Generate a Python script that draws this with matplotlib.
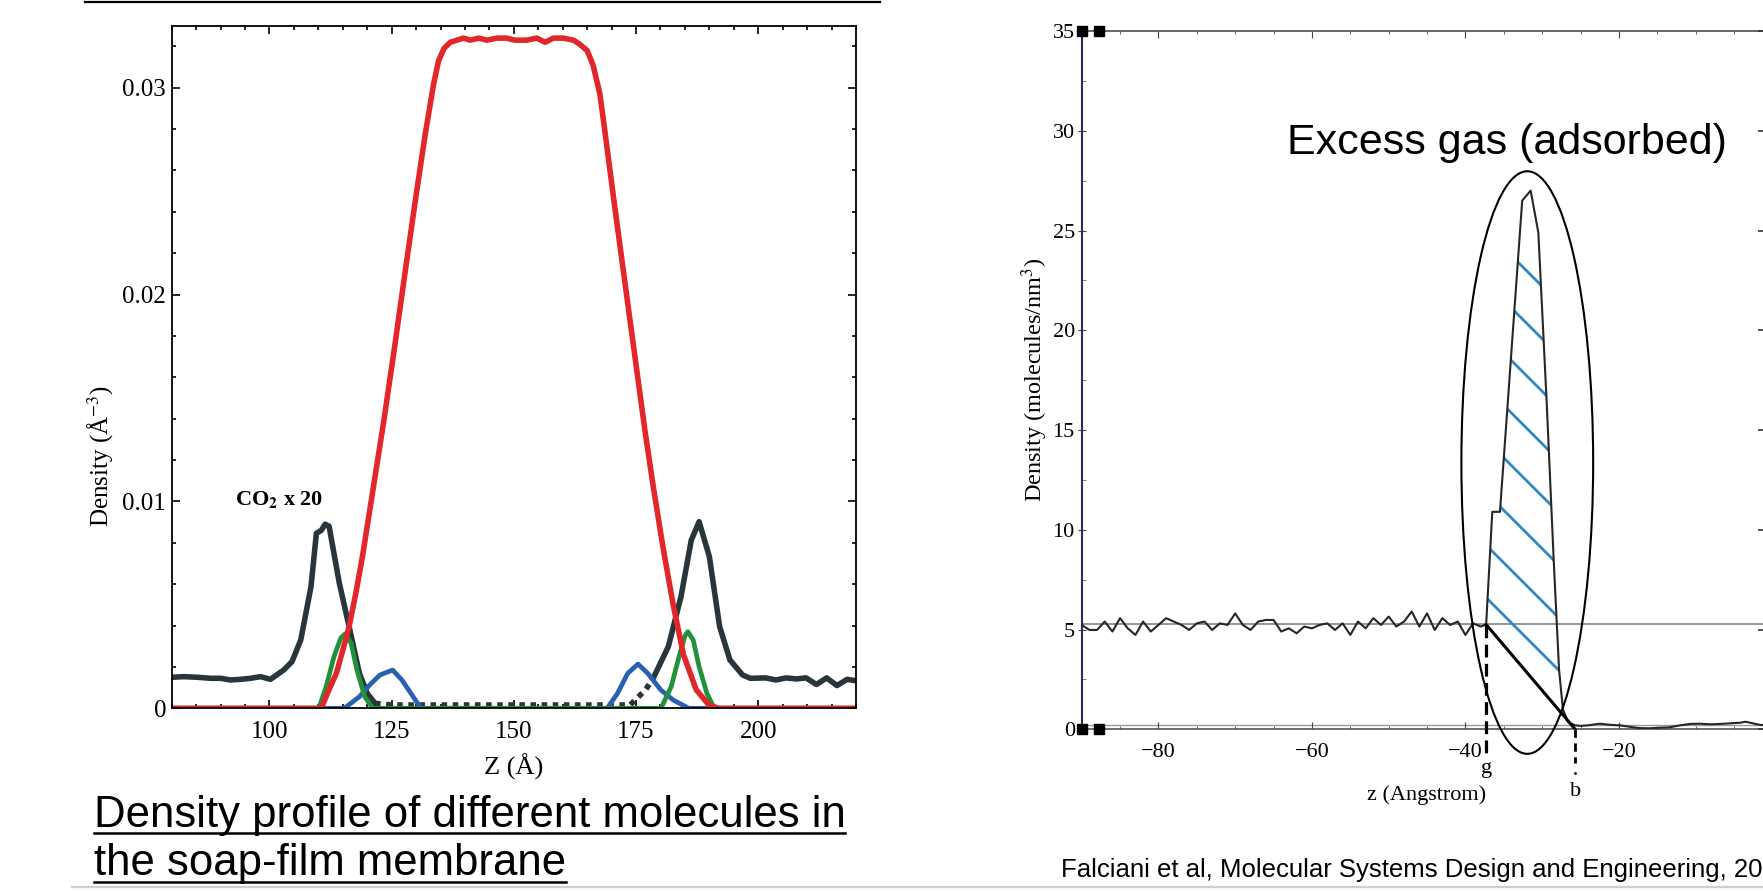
import numpy as np
import matplotlib
matplotlib.use("Agg")
import matplotlib.pyplot as plt
from matplotlib.patches import Ellipse, Polygon
from matplotlib.lines import Line2D
from matplotlib.ticker import MultipleLocator, FixedLocator

plt.rcParams['font.family'] = ['Liberation Serif', 'DejaVu Serif']
plt.rcParams['mathtext.fontset'] = 'stix'

W, H = 1763, 891

# ---------------- left panel: soap-film membrane ----------------
red_z = [80, 110.6, 112, 113.7, 115, 116.3, 117.7, 119, 120.8, 122.6, 123.4, 125.5, 128, 130,
         131.9, 133.6, 134.6, 135.7, 137.0, 139.7, 141.1, 142.8, 144.5, 146.5, 148.5, 150.2,
         152.6, 154.7, 156.4, 158.1, 160.1, 162.2, 163.5, 165.0, 166.2, 167.6, 168.4, 170.5,
         173, 175, 176.9, 178.5, 180.5, 182.6, 184.7, 187.3, 189.9, 191.9, 220]
red_v = [0, 0, 0.0008, 0.0017, 0.0028, 0.00395, 0.0056, 0.0073, 0.0100, 0.0127, 0.0139, 0.0173,
         0.0215, 0.0248, 0.0278, 0.0302, 0.0313, 0.0319, 0.0322, 0.0324, 0.0323, 0.0324, 0.0323,
         0.0324, 0.0324, 0.0323, 0.0323, 0.0324, 0.0322, 0.0324, 0.0324, 0.0323, 0.0321,
         0.0318, 0.0311, 0.0297, 0.0283, 0.0245, 0.0201, 0.0166, 0.0133, 0.01075, 0.0078,
         0.0050, 0.0026, 0.0009, 0.00016, 0, 0]

co2_left_z = [80, 82.5, 85.2, 88.0, 90.0, 92.0, 94.1, 96.1, 98.2, 100.2, 102.9, 104.6, 106.4,
              108.5, 109.6, 110.6, 111.4, 112.2, 114.3, 116.3, 118.4, 120.0, 121.6]
co2_left_v = [0.0015, 0.00153, 0.0015, 0.00145, 0.00145, 0.00137, 0.0014, 0.00145, 0.00153,
              0.0014, 0.00185, 0.00225, 0.0033, 0.00588, 0.00846, 0.0086, 0.0089, 0.0088,
              0.00604, 0.00395, 0.00169, 0.00072, 0.00024]
co2_mid_z = [121.6, 125, 130, 135, 140, 145, 150, 155, 160, 165, 170, 173.8, 174.8, 176.9, 178.5]
co2_mid_v = [0.00024, 0.00016, 0.00016, 0.00016, 0.00016, 0.00016, 0.00016, 0.00016, 0.00016,
             0.00016, 0.00016, 0.00016, 0.0004, 0.00088, 0.00145]
co2_right_z = [178.5, 181.6, 184.2, 186.3, 187.9, 190.0, 192.1, 194.2, 196.8, 198.4, 201.5,
               203.6, 205.7, 207.8, 209.8, 211.9, 214.0, 216.1, 218.2, 220]
co2_right_v = [0.00145, 0.00298, 0.0054, 0.00813, 0.00902, 0.00733, 0.00395, 0.00234, 0.00161,
               0.00145, 0.00147, 0.00137, 0.00147, 0.00142, 0.00147, 0.00115, 0.00147, 0.0011,
               0.0014, 0.00133]

green_z = [80, 110.1, 111.6, 113.2, 114.6, 115.5, 116.7, 117.9, 119.5, 121.1,
           180.1, 182.2, 183.8, 185.0, 185.6, 186.7, 187.9, 189.5, 191.0, 220]
green_v = [0, 0, 0.00105, 0.0025, 0.0034, 0.0036, 0.00315, 0.00185, 0.00056, 0,
           0, 0.00105, 0.0025, 0.0035, 0.0037, 0.0033, 0.00201, 0.00072, 0, 0]

blue_z = [80, 115.3, 118.4, 120.5, 122.6, 125.2, 127.1, 129.4, 131.0,
          169.1, 171.2, 173.3, 175.4, 177.4, 180.1, 182.6, 185.8, 220]
blue_v = [0, 0, 0.00056, 0.00113, 0.00161, 0.00185, 0.00137, 0.00056, 0,
          0, 0.00072, 0.00169, 0.00214, 0.00169, 0.00088, 0.0004, 0, 0]

left_xticks = [100, 125, 150, 175, 200]
left_yticks = [0, 0.01, 0.02, 0.03]
left_yticklabels = ['0', '0.01', '0.02', '0.03']

# ---------------- right panel: gas density profile ----------------
bulk_z = list(range(-90, -37))
bulk_v = [5.23, 4.98, 4.98, 5.40, 4.90, 5.57, 5.06, 4.73, 5.40, 4.90,
          5.23, 5.57, 5.40, 5.23, 4.98, 5.31, 5.40, 4.98, 5.31, 5.23,
          5.81, 5.23, 4.98, 5.40, 5.48, 5.48, 4.90, 5.06, 4.81, 5.15,
          5.06, 5.23, 5.31, 4.98, 5.31, 4.73, 5.40, 5.06, 5.57, 5.23,
          5.65, 5.15, 5.40, 5.90, 5.15, 5.81, 4.98, 5.57, 5.23, 5.40,
          4.73, 5.31, 5.15]
peak_z = [-37.3, -36.5, -35.5, -32.6, -31.5, -30.5, -29.4, -28.5, -27.8, -27.3, -26.6, -25.7]
peak_v = [5.25, 10.9, 10.9, 26.5, 27.0, 24.9, 16.3, 8.5, 3.0, 1.0, 0.35, 0.2]
tail_z = [-25.0, -24.0, -22.5, -21.0, -19.9, -18.5, -17.3, -16.0, -14.7, -13.4, -12.0,
          -10.7, -9.4, -8.1, -6.8, -5.5, -4.2, -3.5, -2.9, -1.6, 0]
tail_v = [0.17, 0.2, 0.28, 0.22, 0.2, 0.12, 0.06, 0.05, 0.08, 0.1, 0.2,
          0.27, 0.28, 0.25, 0.27, 0.3, 0.33, 0.38, 0.33, 0.22, 0.2]
g_z, g_v = -37.3, 5.25
b_z = -25.7
bulk_level = 5.28
hatch_offsets = [6.6, 9.23, 11.86, 14.49, 17.12, 19.75, 22.38, 25.01]
right_xticks = [-80, -60, -40, -20]

RED = '#e1262c'
DARK = '#28353b'
GREEN = '#23903c'
BLUE = '#2a5fb2'
HATCH = '#2f88c2'


def px_rect(x0, x1, ytop, ybot):
    return [x0 / W, 1 - ybot / H, (x1 - x0) / W, (ybot - ytop) / H]


fig = plt.figure(figsize=(W / 100, H / 100), dpi=100)

# ---- left chart ----
ax1 = fig.add_axes(px_rect(171.7, 856, 25.7, 708.3))
ax1.plot(co2_left_z, co2_left_v, color=DARK, lw=4.0)
ax1.plot(co2_mid_z, co2_mid_v, color=DARK, lw=4.0, ls=(0, (1, 1)))
ax1.plot(co2_right_z, co2_right_v, color=DARK, lw=4.0)
ax1.plot(blue_z, blue_v, color=BLUE, lw=3.4)
ax1.plot(green_z, green_v, color=GREEN, lw=3.4)
ax1.plot(red_z, red_v, color=RED, lw=4.0)
ax1.set_xlim(80, 220)
ax1.set_ylim(0, 0.033)
ax1.xaxis.set_major_locator(FixedLocator(left_xticks))
ax1.xaxis.set_minor_locator(MultipleLocator(5))
ax1.yaxis.set_major_locator(FixedLocator(left_yticks))
ax1.set_yticklabels(left_yticklabels)
ax1.yaxis.set_minor_locator(MultipleLocator(0.002))
ax1.tick_params(which='both', direction='in', top=True, right=True, width=1.2, labelsize=18)
ax1.tick_params(which='major', length=6)
ax1.tick_params(which='minor', length=3.2)
ax1.tick_params(axis='x', pad=9)
ax1.tick_params(axis='y', pad=4)
for s in ax1.spines.values():
    s.set_linewidth(1.3)
ax1.set_xlabel('Z (Å)', fontsize=19)
ax1.xaxis.set_label_coords(0.5, -0.085)
ax1.xaxis.label.set_va('center')
ax1.set_ylabel('Density (Å$^{-3}$)', fontsize=18)
ax1.yaxis.set_label_coords(-0.105, 0.37)
ax1.yaxis.label.set_va('center')
ax1.text(92.85, 0.0101, r'CO$_\mathbf{2}$ x 20', fontsize=16, fontweight='bold',
         ha='left', va='center')

# ---- right chart ----
ax2 = fig.add_axes(px_rect(1081.7, 1772.4, 31, 729.3))
ax2.set_xlim(-90, 0)
ax2.set_ylim(0, 35)
ax2.axhline(bulk_level, color='#8c8c8c', lw=1.3, zorder=1)
ax2.axhline(0.22, color='#9a9a9a', lw=1.0, zorder=1)

prof_z = bulk_z + peak_z + tail_z
prof_v = bulk_v + peak_v + tail_v
ax2.plot(prof_z, prof_v, color='#262626', lw=1.5, zorder=3)

# region between the profile and the g-b line, hatched by hand
zz = np.linspace(g_z, b_z, 600)
upper = np.interp(zz, prof_z, prof_v)
lower = g_v * (b_z - zz) / (b_z - g_z)
keep = upper >= lower
verts = np.column_stack([np.r_[zz[keep], zz[keep][::-1]], np.r_[upper[keep], lower[keep][::-1]]])
region = Polygon(verts, closed=True, fill=False, edgecolor='none', transform=ax2.transData)
ax2.add_patch(region)
bb = ax2.get_window_extent()
slope = (bb.width / 90.0) / (bb.height / 35.0)
for c in hatch_offsets:
    hz = np.array([g_z - 2, b_z + 2])
    hl, = ax2.plot(hz, c - slope * (hz - g_z), color=HATCH, lw=2.0, zorder=2)
    hl.set_clip_path(region)

ax2.plot([g_z, b_z], [g_v, 0], color='k', lw=2.2, zorder=4)
ax2.plot([g_z, g_z], [g_v, -1.2], color='k', lw=2.3, ls=(0, (4, 2)), clip_on=False, zorder=4)
ax2.plot([b_z, b_z], [0, -1.7], color='k', lw=2.0, ls=(0, (3, 2)), clip_on=False, zorder=4)
ax2.plot([b_z], [-2.2], 'k.', ms=2, clip_on=False)
ax2.add_patch(Ellipse((-31.94, 13.37), 17.17, 29.2, fill=False, ec='k', lw=1.5,
                      clip_on=False, zorder=5))
ax2.plot([-90, -87.8], [35, 35], 's', color='k', ms=7, clip_on=False, zorder=6)
ax2.plot([-90, -87.8], [0, 0], 's', color='k', ms=7, clip_on=False, zorder=6)
ax2.text(g_z, -1.94, 'g', fontsize=16, ha='center', va='center')
ax2.text(b_z, -3.14, 'b', fontsize=16, ha='center', va='center')

ax2.spines['left'].set_color('#2c2c5a')
ax2.spines['left'].set_linestyle((0, (1.5, 1)))
ax2.spines['left'].set_linewidth(1.5)
ax2.spines['top'].set_color('#666666')
ax2.spines['top'].set_linewidth(1.4)
ax2.spines['bottom'].set_color('#555555')
ax2.spines['bottom'].set_linewidth(1.2)
ax2.spines['right'].set_visible(False)
ax2.xaxis.set_major_locator(FixedLocator(right_xticks))
ax2.xaxis.set_minor_locator(MultipleLocator(5))
ax2.yaxis.set_major_locator(MultipleLocator(5))
ax2.yaxis.set_minor_locator(MultipleLocator(2.5))
ax2.tick_params(axis='x', which='both', direction='in', top=True, color='#444444',
                labelsize=16, pad=10)
ax2.tick_params(axis='x', which='major', length=5)
ax2.tick_params(axis='x', which='minor', length=2.5)
ax2.tick_params(axis='y', which='major', direction='inout', length=6, color='#444444',
                labelsize=16, pad=2)
ax2.tick_params(axis='y', which='minor', direction='in', length=3, color='#666666')
ax2.set_xlabel('z (Angstrom)', fontsize=16)
ax2.xaxis.set_label_coords(0.5, -0.094)
ax2.xaxis.label.set_va('center')
ax2.set_ylabel('Density (molecules/nm$^3$)', fontsize=17.5)
ax2.yaxis.set_label_coords(-0.0676, 0.5)
ax2.yaxis.label.set_va('center')

ax2r = ax2.twinx()
ax2r.set_ylim(0, 35)
ax2r.yaxis.set_major_locator(MultipleLocator(5))
ax2r.tick_params(axis='y', direction='in', length=10, width=1.2, color='#333333',
                 labelright=False)
for s in ax2r.spines.values():
    s.set_visible(False)

# ---- slide text ----
fig.text(1287 / W, 1 - 154 / H, 'Excess gas (adsorbed)', family='Liberation Sans',
         fontsize=31, ha='left', va='baseline')
cap1 = fig.text(93.6 / W, 1 - 826.7 / H, 'Density profile of different molecules in',
                family='Liberation Sans', fontsize=31.5, ha='left', va='baseline')
cap2 = fig.text(93.6 / W, 1 - 875 / H, 'the soap-film membrane',
                family='Liberation Sans', fontsize=31.5, ha='left', va='baseline')
fig.text(1060.8 / W, 1 - 876.7 / H,
         'Falciani et al, Molecular Systems Design and Engineering, 20',
         family='Liberation Sans', fontsize=18.5, ha='left', va='baseline')

renderer = fig.canvas.get_renderer()
for t, ypx in [(cap1, 832.5), (cap2, 881.5)]:
    e = t.get_window_extent(renderer=renderer)
    fig.add_artist(Line2D([e.x0 / W, e.x1 / W], [1 - ypx / H, 1 - ypx / H],
                          color='k', lw=1.8, transform=fig.transFigure))

fig.add_artist(Line2D([85 / W, 880 / W], [1 - 1.5 / H, 1 - 1.5 / H], color='k', lw=1.6,
                      transform=fig.transFigure))
fig.add_artist(Line2D([72 / W, 1.0], [1 - 887 / H, 1 - 887 / H], color='#cfcfcf', lw=1.6,
                      transform=fig.transFigure))

fig.savefig('out.png', dpi=100)
